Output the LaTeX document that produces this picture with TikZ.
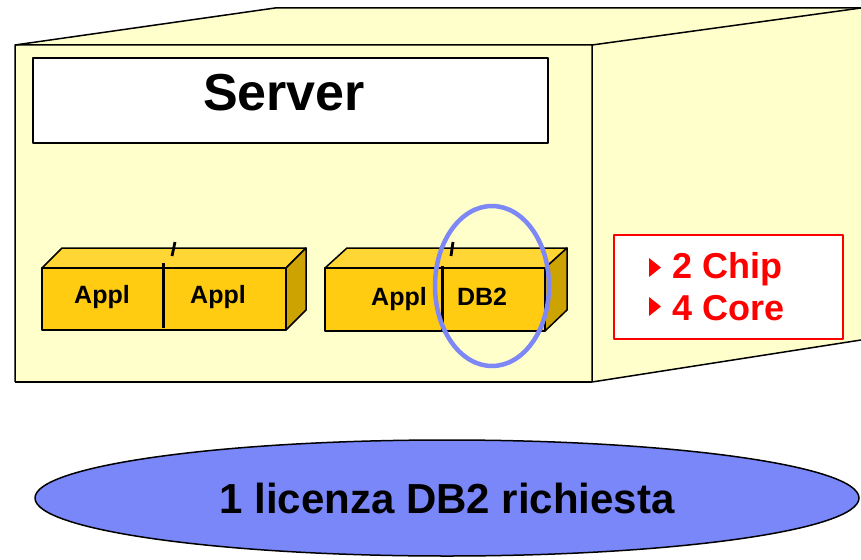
\documentclass[tikz,border=0pt]{standalone}
\usepackage{fontspec}
\setmainfont{Liberation Sans}
\usetikzlibrary{shapes.geometric}
\definecolor{cream}{RGB}{255,255,204}
\definecolor{chipfront}{RGB}{255,204,17}
\definecolor{chiptop}{RGB}{255,214,51}
\definecolor{chipside}{RGB}{204,163,0}
\definecolor{lblue}{RGB}{122,135,248}
\definecolor{ovalblue}{RGB}{125,135,245}
\begin{document}
\begin{tikzpicture}[x=1pt,y=-1pt,line join=round,
  outline/.style={draw=black,line width=1.5pt},
  chiptxt/.style={font=\fontsize{25}{30}\selectfont\bfseries,inner sep=0pt},
  redtxt/.style={font=\fontsize{36}{42}\selectfont\bfseries,text=red,inner sep=0pt,anchor=west},
  divider/.style={draw=black,line width=3pt},
  tick/.style={draw=black,line width=2.8pt}]
\useasboundingbox (0,0) rectangle (861,559);
% server box
\fill[cream] (15,45) -- (275,8) -- (861,8) -- (861,340) -- (592,382) -- (15,382) -- cycle;
\draw[outline] (15,382) -- (15,45) -- (275,8) -- (861,8);
\draw[outline] (15,45) -- (592,45) -- (861,8);
\draw[outline] (592,45) -- (592,382) -- (861,340);
\draw[outline] (15,382) -- (592,382);
% server label
\node[outline,fill=white,minimum width=515pt,minimum height=85pt,inner sep=0pt] (srvbox) at (290.5,100.5) {};
\node[font=\fontsize{52}{60}\selectfont\bfseries,inner sep=0pt] (srv) at (284,93) {Server};
% chip 1
\draw[outline,fill=chiptop] (42,268) -- (62,248) -- (306,248) -- (286,268) -- cycle;
\draw[outline,fill=chipside] (286,268) -- (306,248) -- (306,310) -- (286,330) -- cycle;
\draw[outline,fill=chipfront] (42,268) rectangle (286,330);
\draw[divider] (163,263) -- (163,328);
\draw[tick] (172,256) -- (175,242);
\node[chiptxt] (a1) at (102,297) {Appl};
\node[chiptxt] (a2) at (218,297) {Appl};
% chip 2
\draw[outline,fill=chiptop] (325,268) -- (347,248) -- (567,248) -- (545,268) -- cycle;
\draw[outline,fill=chipside] (545,268) -- (567,248) -- (567,310) -- (545,331) -- cycle;
\draw[outline,fill=chipfront] (325,268) rectangle (545,331);
\draw[divider] (442,266) -- (442,330);
\draw[tick] (451,256) -- (453,242);
\node[chiptxt] (a3) at (399,299) {Appl};
\node[chiptxt] (db) at (482,297) {DB2};
% blue oval
\node[draw=ovalblue,line width=4.5pt,ellipse,minimum width=114pt,minimum height=160pt,inner sep=0pt] (oval) at (492,286) {};
% red box
\node[draw=red,line width=2pt,fill=white,minimum width=229pt,minimum height=104pt,inner sep=0pt] (rb) at (728.5,287) {};
\fill[red] (649,258) -- (649,277) -- (661,267.5) -- cycle;
\fill[red] (649,297) -- (649,316) -- (661,306.5) -- cycle;
\node[redtxt] (chip) at (672,269) {2 Chip};
\node[redtxt] (core) at (672,308) {4 Core};
% bottom ellipse
\node[outline,fill=lblue,ellipse,minimum width=824pt,minimum height=116pt,inner sep=0pt,
  font=\fontsize{42}{50}\selectfont\bfseries] (lic) at (447,498) {1 licenza DB2 richiesta};
\end{tikzpicture}
\end{document}
